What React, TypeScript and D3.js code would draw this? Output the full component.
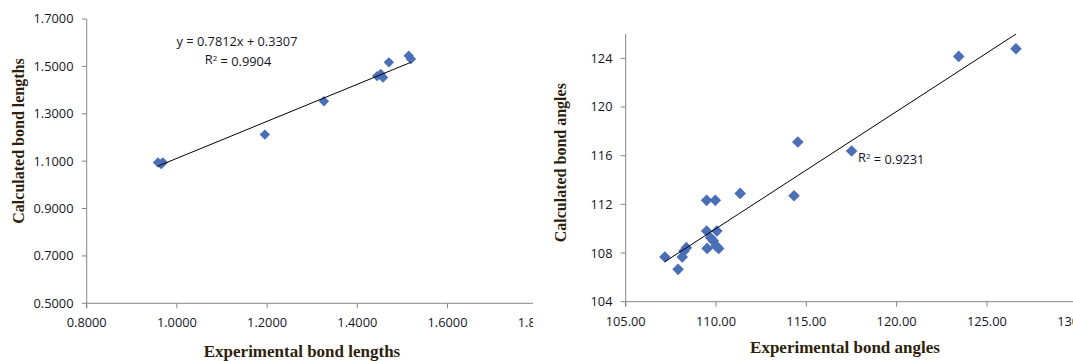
import React from "react";
import * as d3 from "d3";

// ---- Left chart data: bond lengths ----
const lenExperimental = [0.958, 0.969, 0.965, 1.195, 1.326, 1.444, 1.452, 1.457, 1.470, 1.514, 1.519];
const lenCalculated = [1.094, 1.094, 1.088, 1.212, 1.353, 1.459, 1.468, 1.453, 1.517, 1.545, 1.531];
const lenXTicks = [0.8, 1.0, 1.2, 1.4, 1.6, 1.8];
const lenYTicks = [0.5, 0.7, 0.9, 1.1, 1.3, 1.5, 1.7];
const lenSlope = 0.7812;
const lenIntercept = 0.3307;
const lenEquation = "y = 0.7812x + 0.3307";
const lenR2 = "0.9904";

// ---- Right chart data: bond angles ----
const angExperimental = [107.17, 107.90, 108.13, 108.36, 108.23, 109.48, 109.51, 110.05, 109.86, 110.0, 110.15, 109.7, 109.48, 109.96, 111.34, 114.32, 114.53, 117.51, 123.44, 126.61];
const angCalculated = [107.67, 106.66, 107.67, 108.44, 108.16, 109.81, 108.38, 109.81, 108.99, 108.58, 108.38, 109.26, 112.33, 112.33, 112.90, 112.71, 117.12, 116.38, 124.16, 124.79];
const angXTicks = [105, 110, 115, 120, 125, 130];
const angYTicks = [104, 108, 112, 116, 120, 124];
const angR2 = "0.9231";

const AXIS = "#868686";
const MARK = "#4a6fb7";
const TICKFONT = "'Open Sans', sans-serif";
const TITLEFONT = "'Liberation Serif', 'Times New Roman', serif";
const TITLECOL = "#2e1f0c";
const TXT = "#15151f";

const diamond = (r: number) => `M0,${-r}L${r},0L0,${r}L${-r},0Z`;

function regression(xs: number[], ys: number[]) {
  const mx = d3.mean(xs)!;
  const my = d3.mean(ys)!;
  let sxy = 0, sxx = 0;
  xs.forEach((x, i) => { sxy += (x - mx) * (ys[i] - my); sxx += (x - mx) ** 2; });
  const slope = sxy / sxx;
  return { slope, intercept: my - slope * mx };
}

export default function App() {
  // Left scales
  const lx = d3.scaleLinear().domain([0.8, 1.8]).range([86.7, 537.7]);
  const ly = d3.scaleLinear().domain([0.5, 1.7]).range([303.3, 19]);
  // Right scales
  const rx = d3.scaleLinear().domain([105, 130]).range([625.7, 1077.2]);
  const ry = d3.scaleLinear().domain([104, 126]).range([301.7, 34]);

  const lMin = d3.min(lenExperimental)!;
  const lMax = d3.max(lenExperimental)!;
  const rReg = regression(angExperimental, angCalculated);
  const rMin = d3.min(angExperimental)!;
  const rMax = d3.max(angExperimental)!;

  const line = d3.line<[number, number]>();

  return (
    <svg width={1073} height={361} style={{ position: "fixed", left: 0, top: 0, background: "#fff" }}>
      <defs>
        <clipPath id="leftClip"><rect x={0} y={0} width={533} height={361} /></clipPath>
      </defs>
      <rect x={0} y={0} width={1073} height={361} fill="#fff" />
      {/* LEFT CHART */}
      <g clipPath="url(#leftClip)">
        <line x1={lx(0.8)} x2={lx(0.8)} y1={ly(1.7)} y2={ly(0.5) + 5} stroke={AXIS} strokeWidth={1} />
        <line x1={lx(0.8)} x2={533} y1={ly(0.5)} y2={ly(0.5)} stroke={AXIS} strokeWidth={1} />
        {lenYTicks.map((t) => (
          <g key={"ly" + t}>
            <line x1={lx(0.8) - 5} x2={lx(0.8)} y1={ly(t)} y2={ly(t)} stroke={AXIS} />
            <text x={73.5} y={ly(t)} dy="0.35em" textAnchor="end" fontFamily={TICKFONT} fontSize={12.8} fill={TXT}>{t.toFixed(4)}</text>
          </g>
        ))}
        {lenXTicks.map((t) => (
          <g key={"lx" + t}>
            <line x1={lx(t)} x2={lx(t)} y1={ly(0.5)} y2={ly(0.5) + 5} stroke={AXIS} />
            <text x={lx(t)} y={ly(0.5) + 19} dy="0.35em" textAnchor="middle" fontFamily={TICKFONT} fontSize={12.8} fill={TXT}>{t.toFixed(4)}</text>
          </g>
        ))}
        {lenExperimental.map((x, i) => (
          <path key={"lp" + i} d={diamond(5.2)} transform={`translate(${lx(x)},${ly(lenCalculated[i])})`} fill={MARK} />
        ))}
        <path d={line([[lx(lMin), ly(lenSlope * lMin + lenIntercept)], [lx(lMax), ly(lenSlope * lMax + lenIntercept)]])!} stroke="#000" strokeWidth={1} fill="none" />
        <text x={237} y={41.7} dy="0.35em" textAnchor="middle" fontFamily={TICKFONT} fontSize={12.8} fill={TXT}>{lenEquation}</text>
        <text x={238} y={60} dy="0.35em" textAnchor="middle" fontFamily={TICKFONT} fontSize={12.8} fill={TXT}>
          R<tspan dy="-0.4em" fontSize={8}>2</tspan><tspan dy="0.4em"> = {lenR2}</tspan>
        </text>
        <text x={302} y={351} dy="0.35em" textAnchor="middle" fontFamily={TITLEFONT} fontWeight="bold" fontSize={17} fill={TITLECOL}>Experimental bond lengths</text>
        <text transform={`translate(18,141) rotate(-90)`} dy="0.35em" textAnchor="middle" fontFamily={TITLEFONT} fontWeight="bold" fontSize={16} fill={TITLECOL}>Calculated bond lengths</text>
      </g>

      {/* RIGHT CHART */}
      <g>
        <line x1={rx(105)} x2={rx(105)} y1={ry(126)} y2={ry(104) + 5} stroke={AXIS} strokeWidth={1} />
        <line x1={rx(105)} x2={rx(130)} y1={ry(104)} y2={ry(104)} stroke={AXIS} strokeWidth={1} />
        {angYTicks.map((t) => (
          <g key={"ry" + t}>
            <line x1={rx(105) - 5} x2={rx(105)} y1={ry(t)} y2={ry(t)} stroke={AXIS} />
            <text x={612.5} y={ry(t)} dy="0.35em" textAnchor="end" fontFamily={TICKFONT} fontSize={12.8} fill={TXT}>{t}</text>
          </g>
        ))}
        {angXTicks.map((t) => (
          <g key={"rx" + t}>
            <line x1={rx(t)} x2={rx(t)} y1={ry(104)} y2={ry(104) + 5} stroke={AXIS} />
            <text x={rx(t)} y={ry(104) + 20} dy="0.35em" textAnchor="middle" fontFamily={TICKFONT} fontSize={12.8} fill={TXT}>{t.toFixed(2)}</text>
          </g>
        ))}
        {angExperimental.map((x, i) => (
          <path key={"rp" + i} d={diamond(5.8)} transform={`translate(${rx(x)},${ry(angCalculated[i])})`} fill={MARK} />
        ))}
        <path d={line([[rx(rMin), ry(rReg.slope * rMin + rReg.intercept)], [rx(rMax), ry(rReg.slope * rMax + rReg.intercept)]])!} stroke="#000" strokeWidth={1} fill="none" />
        <text x={858} y={157.6} dy="0.35em" textAnchor="start" fontFamily={TICKFONT} fontSize={12.8} fill={TXT}>
          R<tspan dy="-0.4em" fontSize={8}>2</tspan><tspan dy="0.4em"> = {angR2}</tspan>
        </text>
        <text x={845} y={347} dy="0.35em" textAnchor="middle" fontFamily={TITLEFONT} fontWeight="bold" fontSize={17} fill={TITLECOL}>Experimental bond angles</text>
        <text transform={`translate(560,162.7) rotate(-90)`} dy="0.35em" textAnchor="middle" fontFamily={TITLEFONT} fontWeight="bold" fontSize={16} fill={TITLECOL}>Calculated bond angles</text>
      </g>
    </svg>
  );
}
